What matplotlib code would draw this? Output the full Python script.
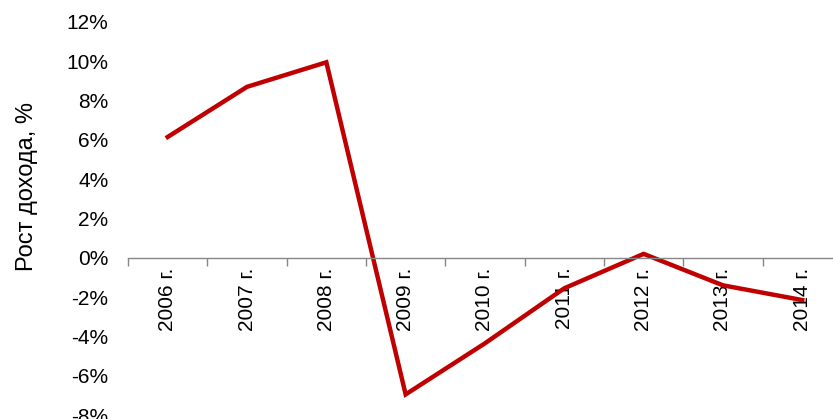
import numpy as np
import matplotlib.pyplot as plt

# === Data ===
years = ["2006 г.", "2007 г.", "2008 г.", "2009 г.", "2010 г.",
         "2011 г.", "2012 г.", "2013 г.", "2014 г."]
growth = [6.15, 8.7, 9.95, -6.95, -4.35, -1.55, 0.2, -1.4, -2.15]
y_ticks = [-8, -6, -4, -2, 0, 2, 4, 6, 8, 10, 12]

plt.rcParams['font.family'] = ['Liberation Sans', 'DejaVu Sans']

# === Figure ===
fig = plt.figure(figsize=(8.33, 4.19), dpi=100)
ax = fig.add_axes([0.1537, 0.0095, 0.857, 0.938])

# spines first: set_position resets the ticks
for s in ['top', 'right', 'left']:
    ax.spines[s].set_visible(False)
ax.spines['bottom'].set_position(('data', 0))
ax.spines['bottom'].set_color('#868686')
ax.spines['bottom'].set_linewidth(1)

x = np.arange(len(years)) + 0.5
ax.plot(x, growth, color='#C00000', linewidth=3.2, solid_joinstyle='miter')

ax.set_xlim(0, len(years))
ax.set_ylim(-8, 12)

ax.set_yticks(y_ticks)
ax.set_yticklabels([f"{v}%" for v in y_ticks])
ax.tick_params(axis='y', length=0, pad=14, labelsize=15)

# category boundaries as ticks, labels in the middle
ax.set_xticks(np.arange(len(years) + 1))
ax.set_xticklabels([])
ax.set_xticks(x, minor=True)
ax.set_xticklabels(years, minor=True)
ax.tick_params(axis='x', which='major', length=6, width=1, color='#868686', direction='out')
ax.tick_params(axis='x', which='minor', length=0, pad=7, labelsize=15, labelrotation=90)

fig.text(0.032, 0.556, "Рост дохода, %", rotation=90, fontsize=17,
         ha='center', va='center')

fig.savefig("out.png", dpi=100)
